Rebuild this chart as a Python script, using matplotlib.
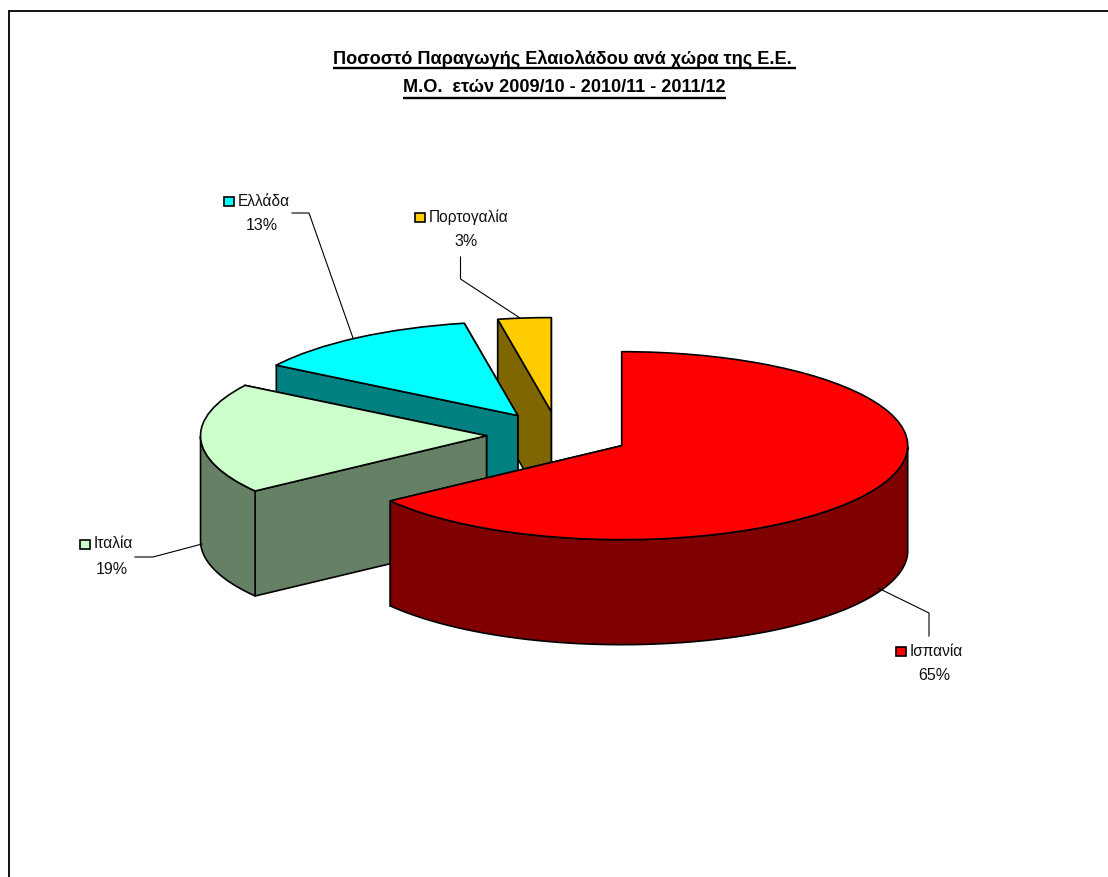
import numpy as np
import matplotlib
matplotlib.use('Agg')
from matplotlib import pyplot as plt
from matplotlib.patches import Polygon, Rectangle

plt.rcParams['font.family'] = ['Liberation Sans', 'DejaVu Sans']

# ποσοστά παραγωγής ανά χώρα
countries = ['Ισπανία', 'Ιταλία', 'Ελλάδα', 'Πορτογαλία']
shares = [65, 19, 13, 3]
explode = [0.25, 0.25, 0.25, 0.25]
top_colors = ['#FF0000', '#CCFFCC', '#00FFFF', '#FFCC00']
side_colors = ['#800000', '#668066', '#008080', '#806600']

title_lines = ['Ποσοστό Παραγωγής Ελαιολάδου ανά χώρα της Ε.Ε. ',
               'Μ.Ο.  ετών 2009/10 - 2010/11 - 2011/12']

W, H = 1108, 877
CX, CY = 558, 435     # κέντρο πίτας σε pixels
RX, RY = 286, 94      # ημιάξονες έλλειψης
DEPTH = 105 / RY      # ύψος πίτας σε μονάδες y

fig = plt.figure(figsize=(W / 100, H / 100), dpi=100, facecolor='white')

ax = fig.add_axes([0, 0, 1, 1])
wedges, _ = ax.pie(shares, explode=explode, startangle=90, counterclock=False,
                   colors=top_colors,
                   wedgeprops={'edgecolor': 'black', 'linewidth': 1.2, 'joinstyle': 'round'})
ax.set_aspect('auto')
ax.set_xlim(-CX / RX, (W - CX) / RX)
ax.set_ylim(-(H - CY) / RY, CY / RY)
ax.axis('off')


def radial_face(w, angle):
    cx, cy = w.center
    ex = cx + w.r * np.cos(np.radians(angle))
    ey = cy + w.r * np.sin(np.radians(angle))
    return [(cx, cy), (ex, ey), (ex, ey - DEPTH), (cx, cy - DEPTH)]


def outer_face(w):
    # μόνο το μπροστινό τμήμα του τόξου (ημίτονο < 0)
    t = np.linspace(w.theta1, w.theta2, 200)
    t = t[np.sin(np.radians(t)) <= 0]
    if len(t) < 2:
        return None
    x = w.center[0] + w.r * np.cos(np.radians(t))
    y = w.center[1] + w.r * np.sin(np.radians(t))
    return list(zip(x, y)) + list(zip(x[::-1], y[::-1] - DEPTH))


# σχεδίαση από πίσω προς τα μπρος: Πορτογαλία, Ελλάδα, Ιταλία, Ισπανία
z = 2
for w, side in zip(wedges[::-1], side_colors[::-1]):
    faces = sorted([w.theta1, w.theta2], key=lambda a: -np.sin(np.radians(a)))
    for a in faces:
        ax.add_patch(Polygon(radial_face(w, a), closed=True, facecolor=side,
                             edgecolor='black', linewidth=1.2, zorder=z))
        z += 1
    arc = outer_face(w)
    if arc is not None:
        ax.add_patch(Polygon(arc, closed=True, facecolor=side,
                             edgecolor='black', linewidth=1.2, zorder=z))
        z += 1
    w.set_zorder(z)
    z += 1

# επικάλυψη σε pixels για κείμενα, πλαίσιο και γραμμές οδηγούς
top = fig.add_axes([0, 0, 1, 1], facecolor='none')
top.set_xlim(0, W)
top.set_ylim(H, 0)
top.axis('off')

top.plot([8.5, 8.5, W], [H, 11, 11], color='black', lw=1.3, solid_joinstyle='miter')

title_y = [59.5, 87]
under_y = [68, 97.5]
for line, ty, uy in zip(title_lines, title_y, under_y):
    t = top.text(564.5, ty, line, ha='center', va='center', fontsize=13.1,
                 fontweight='bold', color='black')
    bb = t.get_window_extent(fig.canvas.get_renderer())
    top.plot([bb.x0, bb.x1], [uy, uy], color='black', lw=1.7, solid_capstyle='butt')

# ετικέτες: (αριστερό τετράγωνο, y ονόματος, x ποσοστού, y ποσοστού)
label_pos = [(896, 651, 934, 675), (80, 544, 112, 569),
             (224, 201, 262, 225), (415, 217, 466, 242)]
leaders = [[(929, 636), (929, 613), (878, 588)],
           [(135, 557), (153, 557), (202, 544)],
           [(292, 213), (309, 213), (353, 338)],
           [(460.5, 257), (460.5, 279), (520, 318)]]

for name, share, color, pos, lead in zip(countries, shares, top_colors, label_pos, leaders):
    kx, ky, px, py = pos
    top.add_patch(Rectangle((kx, ky - 4.5), 9.5, 9.5, facecolor=color, edgecolor='black', lw=1.2))
    top.text(kx + 13.5, ky, name, ha='left', va='center', fontsize=11.2, color='#111111')
    top.text(px, py, '%d%%' % share, ha='center', va='center', fontsize=11.5, color='#111111')
    xs, ys = zip(*lead)
    top.plot(xs, ys, color='black', lw=0.8)

fig.savefig('out.png', dpi=100)
